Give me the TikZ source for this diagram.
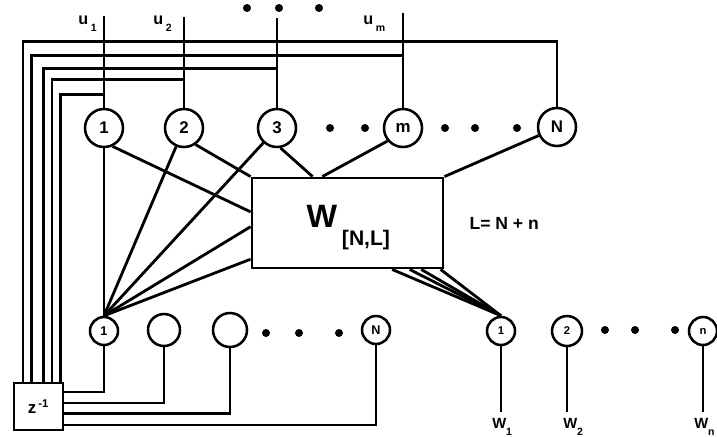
\documentclass[tikz,border=0pt]{standalone}
\usepackage{fontspec}
\setmainfont{Liberation Sans}
\usetikzlibrary{calc,positioning}
\newcommand{\lowidx}[1]{\raisebox{-5.5pt}{\fontsize{7.5}{7.5}\selectfont #1}}

\begin{document}
\begin{tikzpicture}[x=0.025cm,y=-0.025cm,
    wire/.style={line width=2pt},
    neuron/.style={circle,draw,line width=1.8pt,fill=white,inner sep=0pt,minimum size=0.95cm,font=\fontsize{12}{12}\selectfont\bfseries},
    hid/.style={neuron,minimum size=0.7cm,font=\fontsize{9}{9}\selectfont\bfseries},
    dot/.style={circle,fill,inner sep=0pt,minimum size=0.2cm},
    lbl/.style={inner sep=0pt,anchor=base west,font=\fontsize{11.5}{11.5}\selectfont\bfseries}]
        \useasboundingbox (0,0) rectangle (717,436);
        % input layer
        \node[neuron] (i1) at (104,128) {1};
        \node[neuron] (i2) at (184,128) {2};
        \node[neuron] (i3) at (277,128) {3};
        \node[neuron] (im) at (403,128) {m};
        \node[neuron] (iN) at (557,127) {N};
        \foreach \x in {330,365,445,475,517} \node[dot] (r\x) at (\x,128) {};
        %inputs u
        \coordinate (u1) at (104,16);
        \coordinate (u2) at (184,17);
        \coordinate (u3) at (277,18);
        \coordinate (um) at (403,13);
        \draw[wire] (i1.north) -- (u1);
        \draw[wire] (i2.north) -- (u2);
        \draw[wire] (i3.north) -- (u3);
        \draw[wire] (im.north) -- (um);
        \node[lbl] (lu1) at (78,24) {u\,\lowidx{1}};
        \node[lbl] (lu2) at (153,24) {u\,\lowidx{2}};
        \node[lbl] (lum) at (363,24) {u\,\lowidx{m}};
        \foreach \x in {247,279,319} \node[dot] (t\x) at (\x,8) {};
        % weight matrix
        \node[draw,line width=2pt,inner sep=0pt,minimum width=4.775cm,minimum height=2.25cm] (W) at (347.5,223) {};
        \node[inner sep=0pt,font=\fontsize{23}{23}\selectfont\bfseries] (Wl) at (322,216) {W};
        \node[inner sep=0pt,font=\fontsize{15}{15}\selectfont\bfseries] (Ws) at (366,240) {[N,L]};
        \node[inner sep=0pt,right=0.62cm of W,font=\fontsize{12.5}{12.5}\selectfont\bfseries] (Leq) {L= N + n};
        % delay block
        \node[draw,line width=2pt,inner sep=0pt,minimum width=1.225cm,minimum height=1.175cm,font=\fontsize{12}{12}\selectfont\bfseries] (z) at (38.5,406.5) {z\textsuperscript{\,-1}};
        % hidden layer
        \node[hid] (h1) at (104,331) {1};
        \node[hid,minimum size=0.8cm] (h2) at (164,330) {};
        \node[hid,minimum size=0.85cm] (h3) at (230,330) {};
        \node[hid] (hN) at (376,330) {N};
        \foreach \x in {266,299,339} \node[dot] (b\x) at (\x,333) {};
        % output layer
        \node[hid,font=\fontsize{8}{8}\selectfont\bfseries] (o1) at (501,331) {1};
        \node[hid,minimum size=0.75cm,font=\fontsize{8}{8}\selectfont\bfseries] (o2) at (567,331) {2};
        \node[hid,font=\fontsize{8}{8}\selectfont\bfseries] (on) at (703,331) {n};
        \foreach \x in {605,635,675} \node[dot] (q\x) at (\x,330) {};
        \coordinate (w1) at (501,412);
        \coordinate (w2) at (567,412);
        \coordinate (wn) at (703,412);
        \draw[wire] (o1.south) -- (w1);
        \draw[wire] (o2.south) -- (w2);
        \draw[wire] (on.south) -- (wn);
        \node[lbl,font=\fontsize{10.5}{10.5}\selectfont\bfseries] (lw1) at (492,428) {W\lowidx{1}};
        \node[lbl,font=\fontsize{10.5}{10.5}\selectfont\bfseries] (lw2) at (563,428) {W\lowidx{2}};
        \node[lbl,font=\fontsize{10.5}{10.5}\selectfont\bfseries] (lwn) at (694,428) {W\lowidx{n}};
        % input layer to W and to hidden 1
        \draw[wire] (i1.-65) -- ($(W.north west)!0.38!(W.south west)$);
        \draw[wire] (i2.-55) -- (W.north west);
        \draw[wire] (i3.-80) -- ($(W.north west)!0.32!(W.north east)$);
        \draw[wire] (im.-140) -- ($(W.north west)!0.37!(W.north east)$);
        \draw[wire] (iN.-155) -- (W.north east);
        \draw[wire] (i1.south) -- (h1.north);
        \draw[wire] (i2) -- (h1.north);
        \draw[wire] (i3) -- (h1.north);
        \draw[wire] (h1.north) -- ($(W.north west)!0.54!(W.south west)$);
        \draw[wire] (h1.north) -- ($(W.north west)!0.89!(W.south west)$);
        % W to output 1
        \foreach \f in {0.73,0.82,0.88,0.98}
            \draw[wire] ($(W.south west)!\f!(W.south east)$) -- (o1.north);
        % hidden layer into z^-1
        \draw[wire] (h1.south) |- ($(z.north east)!0.21!(z.south east)$);
        \draw[wire] (h2.south) |- ($(z.north east)!0.43!(z.south east)$);
        \draw[wire] (h3.south) |- ($(z.north east)!0.64!(z.south east)$);
        \draw[wire] (hN.south) |- ($(z.north east)!0.87!(z.south east)$);
        % feedback from z^-1 to the input layer
        \draw[wire] ($(z.north west)!0.2!(z.north east)$) |- ($(iN.north)+(0,-65)$) -- (iN.north);
        \draw[wire] ($(z.north west)!0.37!(z.north east)$) |- ($(im.north)+(0,-52)$);
        \draw[wire] ($(z.north west)!0.59!(z.north east)$) |- ($(i3.north)+(0,-39)$);
        \draw[wire] ($(z.north west)!0.76!(z.north east)$) |- ($(i2.north)+(0,-28)$);
        \draw[wire] ($(z.north west)!0.92!(z.north east)$) |- ($(i1.north)+(0,-13)$);
\end{tikzpicture}
\end{document}
